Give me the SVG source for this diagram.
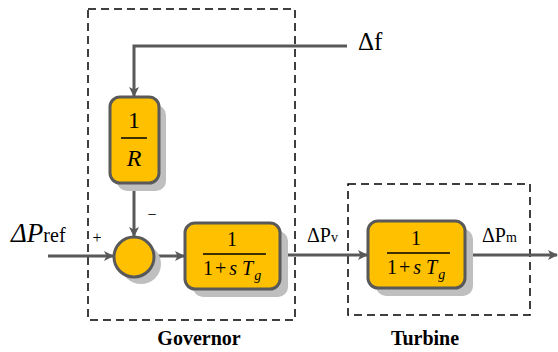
<svg xmlns="http://www.w3.org/2000/svg" width="558" height="352" viewBox="0 0 558 352">
<defs>
<marker id="ah" markerWidth="10" markerHeight="10" refX="9" refY="5" orient="auto" markerUnits="userSpaceOnUse" viewBox="0 0 10 10">
<path d="M0,0 L10,5 L0,10 L2.5,5 Z" fill="#595959"/>
</marker>
</defs>
<style>
.blk{fill:#FFC000;stroke:#595959;stroke-width:3}
.sh{fill:#BFBFBF}
.ln{fill:none;stroke:#595959;stroke-width:3}
.dash{fill:none;stroke:#000;stroke-width:1.5;stroke-dasharray:8,5}
.t{fill:#000}
.it{font-style:italic}
.lbl{font-weight:bold;font-size:20px;text-anchor:middle}
</style>
<rect width="558" height="352" fill="#fff"/>
<g font-family="Liberation Serif, serif">
<g id="governor-box">
<rect class="dash" x="88" y="9" width="207" height="311"/>
<text class="lbl" x="199" y="345">Governor</text>
</g>
<g id="turbine-box">
<rect class="dash" x="348" y="184" width="182" height="131"/>
<text class="lbl" x="425" y="345">Turbine</text>
</g>
<g id="connectors">
<path class="ln" d="M347,46 H134 V96" marker-end="url(#ah)"/>
<path class="ln" d="M134,183 V236" marker-end="url(#ah)"/>
<path class="ln" d="M48,256 H113" marker-end="url(#ah)"/>
<path class="ln" d="M155,256 H184" marker-end="url(#ah)"/>
<path class="ln" d="M280,255 H367" marker-end="url(#ah)"/>
<path class="ln" d="M465,255 H557" marker-end="url(#ah)"/>
</g>
<g id="inv-R">
<rect class="sh" x="117" y="105" width="49" height="86" rx="10"/>
<rect class="blk" x="110" y="97" width="49" height="86" rx="10"/>
<text class="t" x="134" y="128" font-size="24" text-anchor="middle">1</text>
<line x1="121" y1="138" x2="147" y2="138" stroke="#000" stroke-width="1.5"/>
<text class="t it" x="134" y="166" font-size="24" text-anchor="middle">R</text>
</g>
<g id="sum">
<circle class="sh" cx="141" cy="264" r="20"/>
<circle class="blk" cx="134" cy="257" r="20"/>
<text class="t" x="97" y="243" font-size="16" text-anchor="middle">+</text>
<text class="t" x="152" y="220" font-size="16" text-anchor="middle">−</text>
</g>
<g id="gov-block">
<rect class="sh" x="193" y="231" width="95" height="66" rx="10"/>
<rect class="blk" x="185" y="223" width="95" height="66" rx="10"/>
<text class="t" x="232" y="246" font-size="20" text-anchor="middle">1</text>
<line x1="203" y1="254" x2="266" y2="254" stroke="#000" stroke-width="1.5"/>
<text class="t" x="203" y="275" font-size="20">1<tspan dx="2">+</tspan><tspan class="it" dx="3">s</tspan><tspan class="it" dx="5">T</tspan><tspan class="it" font-size="14" dx="1" dy="5">g</tspan></text>
</g>
<g id="turb-block">
<rect class="sh" x="376" y="229" width="97" height="67" rx="10"/>
<rect class="blk" x="368" y="221" width="97" height="67" rx="10"/>
<text class="t" x="416" y="245" font-size="20" text-anchor="middle">1</text>
<line x1="387" y1="253" x2="450" y2="253" stroke="#000" stroke-width="1.5"/>
<text class="t" x="387" y="274" font-size="20">1<tspan dx="2">+</tspan><tspan class="it" dx="3">s</tspan><tspan class="it" dx="5">T</tspan><tspan class="it" font-size="14" dx="1" dy="5">g</tspan></text>
</g>
<g id="labels">
<text class="t" x="358" y="50" font-size="25">Δf</text>
<text class="t" x="11" y="242" font-size="27"><tspan class="it">ΔP</tspan><tspan font-size="20">ref</tspan></text>
<text class="t" x="307" y="242" font-size="20">ΔP<tspan font-size="14">v</tspan></text>
<text class="t" x="482" y="242" font-size="20">ΔP<tspan font-size="14">m</tspan></text>
</g>
</g>
</svg>
